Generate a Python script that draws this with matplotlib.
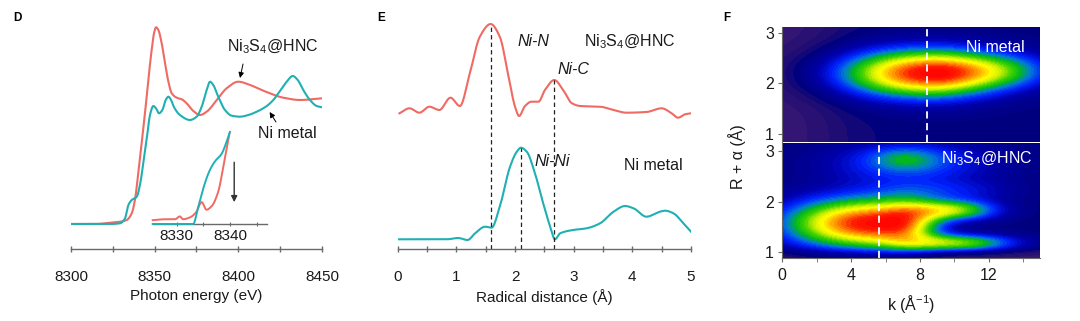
import numpy as np
import matplotlib
matplotlib.use("Agg")
import matplotlib.pyplot as plt
from matplotlib.colors import LinearSegmentedColormap

plt.rcParams["font.family"] = ["Liberation Sans", "DejaVu Sans"]
plt.rcParams["mathtext.fontset"] = "custom"
plt.rcParams["mathtext.rm"] = "Liberation Sans"
plt.rcParams["mathtext.it"] = "Liberation Sans:italic"
plt.rcParams["mathtext.bf"] = "Liberation Sans:bold"

RED = "#ef6a63"
TEAL = "#20b0b3"
AXIS_GRAY = "#6a6a6a"
TEXT = "#1a1a1a"

# ---------------- XANES (panel D) ----------------
xanes_e_hnc = [8300, 8315, 8323.3, 8329.3, 8333.3, 8336.3, 8338.2, 8340.2, 8342.2,
               8344.2, 8346.2, 8348.2, 8349.6, 8350.8, 8352.2, 8354.2, 8356.2,
               8358.2, 8360.2, 8363.2, 8366.2, 8369.1, 8373.1, 8377.1, 8381.1,
               8387.1, 8393.0, 8400.0, 8407.0, 8414.9, 8426.9, 8436.9, 8450]
xanes_mu_hnc = [0.0, 0.0, 0.013, 0.023, 0.04, 0.107, 0.24, 0.507, 0.807,
                1.107, 1.44, 1.74, 1.907, 1.967, 1.94, 1.807, 1.607,
                1.423, 1.307, 1.263, 1.247, 1.207, 1.13, 1.09, 1.123,
                1.24, 1.357, 1.423, 1.39, 1.333, 1.263, 1.24, 1.257]

xanes_e_ni = [8300, 8323.3, 8329.3, 8332.3, 8334.3, 8336.3, 8339.3, 8341.2, 8343.2,
              8345.2, 8347.2, 8349.2, 8350.8, 8352.6, 8354.6, 8356.6, 8358.2,
              8359.8, 8361.6, 8365.1, 8371.1, 8375.1, 8378.1, 8381.1, 8383.1,
              8385.0, 8388.0, 8392.0, 8396.0, 8401.0, 8406.0, 8411.0, 8417.0,
              8420.9, 8424.9, 8428.9, 8432.5, 8435.5, 8438.8, 8442.8, 8446.8, 8450]
xanes_mu_ni = [0.0, 0.0, 0.007, 0.057, 0.19, 0.24, 0.273, 0.39, 0.607,
               0.84, 1.09, 1.18, 1.157, 1.107, 1.14, 1.24, 1.273,
               1.24, 1.167, 1.09, 1.04, 1.073, 1.173, 1.34, 1.423,
               1.39, 1.273, 1.14, 1.083, 1.073, 1.09, 1.123, 1.18,
               1.24, 1.333, 1.423, 1.48, 1.44, 1.34, 1.24, 1.18, 1.167]

# pre-edge region (inset)
pre_e_hnc = [8325.5, 8327.8, 8329.7, 8330.6, 8331.2, 8332.5, 8333.6, 8334.7,
             8335.6, 8336.6, 8337.8, 8338.75, 8339.9]
pre_mu_hnc = [0.04, 0.05, 0.05, 0.08, 0.05, 0.07, 0.12, 0.23,
              0.15, 0.19, 0.34, 0.60, 0.95]
pre_e_ni = [8325.5, 8330.0, 8333.1, 8334.05, 8335.3, 8336.25, 8337.2,
            8338.45, 8339.4, 8340.0]
pre_mu_ni = [0.0, 0.0, 0.0, 0.18, 0.43, 0.57, 0.66, 0.74, 0.87, 0.97]

# ---------------- FT-EXAFS (panel E) ----------------
ft_r_hnc = [0.03, 0.20, 0.37, 0.54, 0.71, 0.90, 1.06, 1.23, 1.40, 1.585, 1.74,
            1.89, 2.00, 2.07, 2.17, 2.28, 2.40, 2.51, 2.67, 2.82, 2.97, 3.11,
            3.45, 3.68, 3.90, 4.24, 4.50, 4.67, 4.78, 4.90, 5.00]
ft_mag_hnc = [0.047, 0.097, 0.053, 0.113, 0.08, 0.203, 0.12, 0.447, 0.813, 0.94,
              0.813, 0.413, 0.113, 0.02, 0.12, 0.163, 0.163, 0.28, 0.38, 0.28,
              0.147, 0.12, 0.113, 0.08, 0.053, 0.06, 0.097, 0.047, 0.003,
              0.037, 0.047]
ft_r_ni = [0.0, 0.835, 1.03, 1.19, 1.32, 1.49, 1.60, 1.74, 1.915, 2.03, 2.10,
           2.20, 2.34, 2.48, 2.60, 2.68, 2.77, 2.99, 3.22, 3.45, 3.68, 3.875,
           4.02, 4.24, 4.47, 4.56, 4.70, 4.87, 5.00]
ft_mag_ni = [0.007, 0.007, 0.02, 0.0, 0.067, 0.133, 0.123, 0.333, 0.733, 0.883,
             0.923, 0.883, 0.667, 0.367, 0.133, 0.007, 0.067, 0.1, 0.117,
             0.167, 0.283, 0.34, 0.317, 0.233, 0.283, 0.293, 0.267, 0.167,
             0.083]
ft_offset_hnc = 1.31
ft_offset_ni = 0.09
bond_r_ni_n = 1.585
bond_r_ni_ni = 2.10
bond_r_ni_c = 2.67

# ---------------- Wavelet transform maps (panel F) ----------------
# each ridge: k0, R0, sigma_k (low side), sigma_k (high side), sigma_R, amplitude, k-exponent
wt_ni_metal = [
    (8.4, 2.20, 3.6, 2.8, 0.33, 1.00, 2.0),
    (12.8, 2.25, 2.2, 2.2, 0.25, 0.35, 2.0),
]
wt_ni_metal_bg = (0.13, 3.0, 1.2, 0.0)      # level, k midpoint, k width, R floor
wt_ni3s4 = [
    (6.0, 1.57, 4.3, 2.2, 0.35, 1.00, 2.5),
    (10.0, 1.83, 1.8, 1.8, 0.14, 0.55, 2.0),
    (10.3, 1.18, 2.3, 2.3, 0.12, 0.55, 2.0),
    (7.1, 2.85, 1.4, 1.4, 0.15, 0.17, 2.0),
    (7.5, 2.75, 3.5, 3.5, 0.33, 0.29, 2.0),
    (10.0, 2.20, 2.5, 2.5, 0.15, 0.15, 2.0),
]
wt_ni3s4_bg = (0.12, -3.0, 1.0, 1.05)
wt_ridge_k_ni_metal = 8.4
wt_ridge_k_ni3s4 = 5.6


def pchip(x, y, xs):
    x = np.asarray(x, float)
    y = np.asarray(y, float)
    h = np.diff(x)
    d = np.diff(y) / h
    m = np.zeros_like(y)
    m[0], m[-1] = d[0], d[-1]
    for i in range(1, len(x) - 1):
        if d[i - 1] * d[i] > 0:
            w1 = 2 * h[i] + h[i - 1]
            w2 = h[i] + 2 * h[i - 1]
            m[i] = (w1 + w2) / (w1 / d[i - 1] + w2 / d[i])
    idx = np.clip(np.searchsorted(x, xs) - 1, 0, len(x) - 2)
    t = (xs - x[idx]) / h[idx]
    h00 = 2 * t**3 - 3 * t**2 + 1
    h10 = t**3 - 2 * t**2 + t
    h01 = -2 * t**3 + 3 * t**2
    h11 = t**3 - t**2
    return h00 * y[idx] + h10 * h[idx] * m[idx] + h01 * y[idx + 1] + h11 * h[idx] * m[idx + 1]


def smooth(x, y, n=600):
    xs = np.linspace(x[0], x[-1], n)
    return xs, pchip(x, y, xs)


def wt_map(ridges, bg, kk, rr):
    level, kmid, kw, rfloor = bg
    z = level / (1 + np.exp(-(kk - kmid) / kw))
    if rfloor > 0:
        z = z / (1 + np.exp(-(rr - rfloor) / 0.05))
    for k0, r0, skl, skh, sr, amp, p in ridges:
        sk = np.where(kk < k0, skl, skh)
        z = z + amp * np.exp(-0.5 * np.abs((kk - k0) / sk) ** p) * np.exp(-0.5 * ((rr - r0) / sr) ** 2)
    return z / z.max()


def style_bottom_only(ax):
    for s in ("left", "top", "right"):
        ax.spines[s].set_visible(False)
    ax.spines["bottom"].set_color(AXIS_GRAY)
    ax.spines["bottom"].set_linewidth(1.0)
    ax.set_yticks([])


W, H = 1080, 321
fig = plt.figure(figsize=(W / 100, H / 100), dpi=100)


def frac(x0, y_top, x1, y_bot):
    return [x0 / W, 1 - y_bot / H, (x1 - x0) / W, (y_bot - y_top) / H]


ARROW = dict(arrowstyle="-|>", lw=0.7, color="black", mutation_scale=8,
             shrinkA=0, shrinkB=0)

# ---------------- Panel D ----------------
axd = fig.add_axes(frac(71, 20, 322, 249))
axd.set_xlim(8300, 8450)
axd.set_ylim(-0.25, 2.04)
style_bottom_only(axd)
axd.set_xticks([8300, 8350, 8400, 8450])
axd.set_xticks([8325, 8375, 8425], minor=True)
axd.tick_params(axis="x", which="both", direction="inout", length=4, width=1,
                color=AXIS_GRAY, labelsize=11, labelcolor=TEXT, pad=13)
x, y = smooth(xanes_e_hnc, xanes_mu_hnc)
axd.plot(x, y, color=RED, lw=1.5)
x, y = smooth(xanes_e_ni, xanes_mu_ni)
axd.plot(x, y, color=TEAL, lw=1.5)
axd.set_xlabel("Photon energy (eV)", fontsize=11, color=TEXT)
axd.xaxis.set_label_coords(0.5, -0.175)

axd.text(8420.7, 1.77, r"Ni$_3$S$_4$@HNC", fontsize=11.5, ha="center", va="center", color=TEXT)
axd.annotate("", xy=(8401.0, 1.46), xytext=(8402.8, 1.60), arrowprops=ARROW)
axd.text(8429, 0.91, "Ni metal", fontsize=11.5, ha="center", va="center", color=TEXT)
axd.annotate("", xy=(8418.7, 1.12), xytext=(8422.5, 1.02), arrowprops=ARROW)

# inset: pre-edge
axi = fig.add_axes(frac(152.7, 129, 266.7, 224))
axi.patch.set_alpha(0)
axi.set_xlim(8325.5, 8346.9)
axi.set_ylim(0, 1)
style_bottom_only(axi)
axi.set_xticks([8330, 8340])
axi.set_xticks([8335, 8345], minor=True)
axi.tick_params(axis="x", which="both", direction="inout", length=3, width=0.8,
                color=AXIS_GRAY, labelsize=11, labelcolor=TEXT, pad=2)
x, y = smooth(pre_e_hnc, pre_mu_hnc, 300)
axi.plot(x, y, color=RED, lw=1.4, clip_on=False)
x, y = smooth(pre_e_ni, pre_mu_ni, 300)
axi.plot(x, y, color=TEAL, lw=1.4, clip_on=False, zorder=3)
axi.annotate("", xy=(8340.8, 0.23), xytext=(8340.8, 0.65),
             arrowprops=dict(arrowstyle="-|>", lw=1.0, color="#333333",
                             mutation_scale=9, shrinkA=0, shrinkB=0))

# ---------------- Panel E ----------------
axe = fig.add_axes(frac(397.7, 20, 691, 249))
axe.set_xlim(0, 5)
axe.set_ylim(0, 2.29)
style_bottom_only(axe)
axe.set_xticks(range(6))
axe.set_xticks(np.arange(0.5, 5, 1.0), minor=True)
axe.tick_params(axis="x", which="both", direction="inout", length=4, width=1,
                color=AXIS_GRAY, labelsize=11, labelcolor=TEXT, pad=13)
xr, yr = smooth(ft_r_hnc, ft_mag_hnc)
axe.plot(xr, yr + ft_offset_hnc, color=RED, lw=1.5)
xn, yn = smooth(ft_r_ni, ft_mag_ni)
axe.plot(xn, yn + ft_offset_ni, color=TEAL, lw=1.5)
for r_b, (rx, ry, off) in ((bond_r_ni_n, (ft_r_hnc, ft_mag_hnc, ft_offset_hnc)),
                           (bond_r_ni_ni, (ft_r_ni, ft_mag_ni, ft_offset_ni)),
                           (bond_r_ni_c, (ft_r_hnc, ft_mag_hnc, ft_offset_hnc))):
    top = float(pchip(rx, ry, np.array([r_b]))[0]) + off
    axe.plot([r_b, r_b], [0, top], color="#222222", lw=0.9, ls=(0, (3.5, 2.5)))
axe.set_xlabel("Radical distance (Å)", fontsize=11, color=TEXT)
axe.xaxis.set_label_coords(0.5, -0.175)
axe.text(2.31, 2.07, "Ni-N", style="italic", fontsize=11.5, ha="center", va="center", color=TEXT)
axe.text(3.96, 2.07, r"Ni$_3$S$_4$@HNC", fontsize=11.5, ha="center", va="center", color=TEXT)
axe.text(2.99, 1.79, "Ni-C", style="italic", fontsize=11.5, ha="center", va="center", color=TEXT)
axe.text(2.63, 0.87, "Ni-Ni", style="italic", fontsize=11.5, ha="center", va="center", color=TEXT)
axe.text(4.35, 0.84, "Ni metal", fontsize=11.5, ha="center", va="center", color=TEXT)

# ---------------- Panel F ----------------
wt_cmap = LinearSegmentedColormap.from_list("wt", [
    (0.00, (0.22, 0.09, 0.45)),
    (0.06, (0.12, 0.05, 0.45)),
    (0.11, (0.00, 0.00, 0.50)),
    (0.22, (0.00, 0.00, 0.68)),
    (0.32, (0.00, 0.12, 1.00)),
    (0.42, (0.00, 0.48, 0.85)),
    (0.50, (0.00, 0.72, 0.12)),
    (0.58, (0.25, 0.82, 0.00)),
    (0.68, (0.85, 0.95, 0.00)),
    (0.74, (1.00, 1.00, 0.00)),
    (0.84, (1.00, 0.60, 0.00)),
    (0.94, (1.00, 0.12, 0.00)),
    (1.00, (1.00, 0.00, 0.00)),
])
kk_axis = np.linspace(0, 15, 301)


def draw_wt(ax, ridges, bg, rlim, ridge_k, label, label_xy):
    rr_axis = np.linspace(rlim[0], rlim[1], 231)
    kk, rr = np.meshgrid(kk_axis, rr_axis)
    z = wt_map(ridges, bg, kk, rr)
    ax.contourf(kk, rr, z, levels=np.linspace(0, 1.0001, 42), cmap=wt_cmap)
    ax.set_xlim(0, 15)
    ax.set_ylim(*rlim)
    ax.axvline(ridge_k, color="white", lw=1.3, ls=(0, (4, 2.5)))
    ax.text(*label_xy, label, color="white", fontsize=11.5, ha="center", va="center")
    for s in ("top", "right"):
        ax.spines[s].set_visible(False)
    ax.spines["left"].set_color(AXIS_GRAY)
    ax.spines["bottom"].set_visible(False)
    ax.set_yticks([1, 2, 3])
    ax.tick_params(axis="y", direction="out", length=3, color=AXIS_GRAY,
                   labelsize=11.5, labelcolor=TEXT, pad=3)


axf1 = fig.add_axes(frac(782.3, 26.7, 1040.3, 141.7))
draw_wt(axf1, wt_ni_metal, wt_ni_metal_bg, (0.85, 3.12), wt_ridge_k_ni_metal,
        "Ni metal", (12.4, 2.70))
axf1.set_xticks([])

axf2 = fig.add_axes(frac(782.3, 143.3, 1040.3, 258.3))
draw_wt(axf2, wt_ni3s4, wt_ni3s4_bg, (0.88, 3.15), wt_ridge_k_ni3s4,
        r"Ni$_3$S$_4$@HNC", (11.9, 2.84))
axf2.spines["bottom"].set_visible(True)
axf2.spines["bottom"].set_color(AXIS_GRAY)
axf2.set_xticks([0, 4, 8, 12])
axf2.set_xticks([2, 6, 10, 14], minor=True)
axf2.tick_params(axis="x", which="both", direction="out", length=3, color=AXIS_GRAY,
                 labelsize=11.5, labelcolor=TEXT, pad=4)
axf2.set_xlabel(r"k (Å$^{-1}$)", fontsize=11.5, color=TEXT)
axf2.xaxis.set_label_coords(0.5, -0.30)

fig.text(737 / W, 1 - 157 / H, "R + α (Å)", rotation=90, fontsize=11.5,
         ha="center", va="center", color=TEXT)

# panel letters
for lx, ly, letter in ((17, 18, "D"), (381, 18, "E"), (727, 18, "F")):
    fig.text(lx / W, 1 - ly / H, letter, fontsize=8.5, fontweight="bold",
             ha="center", va="center", color="black")

fig.savefig("out.png", dpi=100, facecolor="white")
